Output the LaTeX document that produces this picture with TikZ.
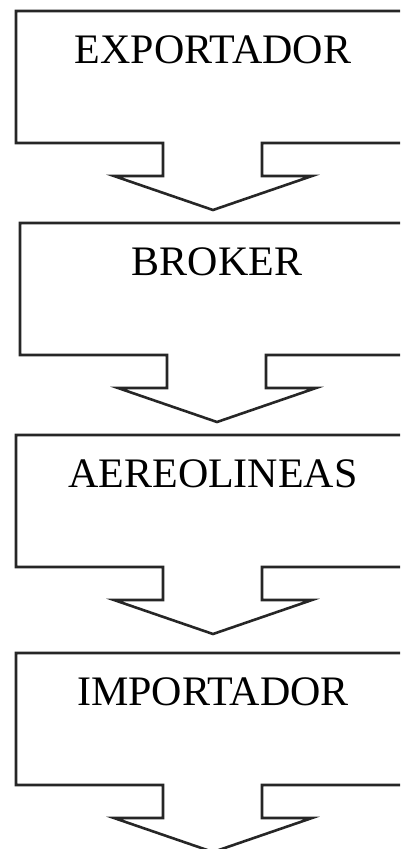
\documentclass[tikz,border=0pt]{standalone}
\usepackage{fontspec}
\setmainfont{Liberation Serif}
\tikzset{
  stagebox/.style={draw=black!85, line width=2.6pt, fill=white},
  stagetext/.style={anchor=base, inner sep=0pt, font=\fontsize{42}{42}\selectfont}
}
\begin{document}
\begin{tikzpicture}[x=1pt,y=-1pt]
\useasboundingbox (0,0) rectangle (400,849);
\clip (0,0) rectangle (400,849);
% one arrow box for each stage
\foreach \dx/\top/\name/\txt in {0/11/exp/EXPORTADOR, 4/223/bro/BROKER, 0/435/aer/AEREOLINEAS, 0/653/imp/IMPORTADOR} {
  \begin{scope}[shift={(\dx,\top)}]
    \draw[stagebox] (16,0) -- (412,0) -- (412,132) -- (262,132) -- (262,165) -- (312,165)
      -- (213,199) -- (114,165) -- (163,165) -- (163,132) -- (16,132) -- cycle;
    \node[stagetext] (\name) at (213,52) {\txt};
  \end{scope}
}
\end{tikzpicture}
\end{document}
